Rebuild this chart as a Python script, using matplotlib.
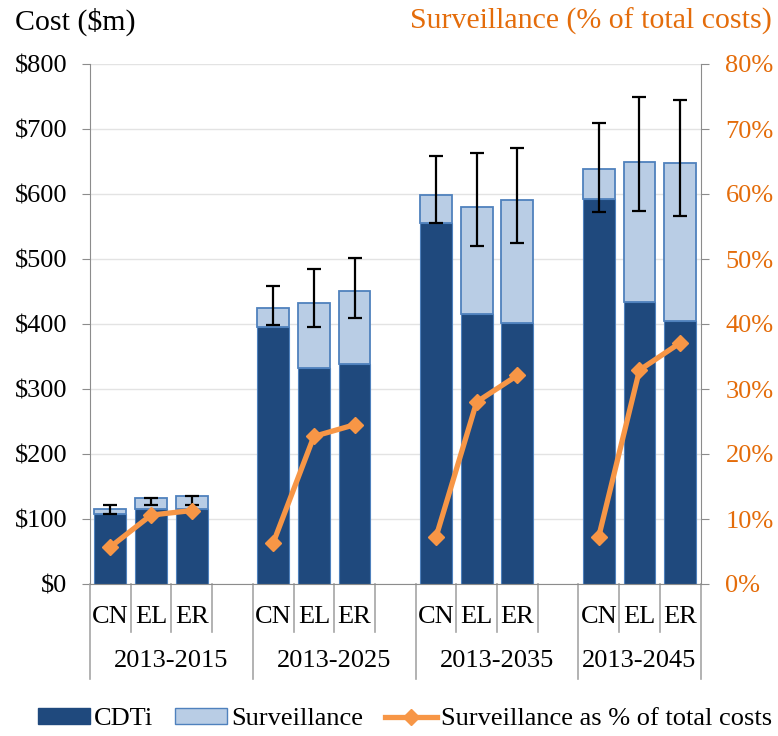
import matplotlib
matplotlib.use('Agg')
import matplotlib.pyplot as plt
import numpy as np
from matplotlib.patches import Patch
from matplotlib.lines import Line2D

plt.rcParams['font.family'] = ['Liberation Serif', 'DejaVu Serif']
plt.rcParams['font.size'] = 19

# chart data
periods = ['2013-2015', '2013-2025', '2013-2035', '2013-2045']
scenarios = ['CN', 'EL', 'ER']
cdti = [108, 116, 116, 396, 332, 339, 556, 416, 401, 593, 434, 405]
surveillance = [7, 17, 19, 28, 100, 112, 43, 164, 190, 46, 215, 243]
err_low = [107, 122, 121, 399, 395, 409, 555, 520, 524, 572, 574, 566]
err_high = [121, 133, 135, 459, 484, 501, 659, 663, 671, 710, 750, 745]
surv_pct = [5.7, 10.6, 11.3, 6.3, 22.7, 24.5, 7.2, 28.0, 32.1, 7.3, 32.9, 37.1]

dark_blue = '#1F497D'
light_blue = '#B9CDE5'
edge_blue = '#4F81BD'
orange = '#F79646'
orange_text = '#E46C0A'
grey = '#8C8C8C'

# one empty category slot between period groups
x = np.array([g * 4 + s for g in range(len(periods)) for s in range(len(scenarios))])
cdti = np.array(cdti)
surveillance = np.array(surveillance)
total = cdti + surveillance
yerr = [total - np.array(err_low), np.array(err_high) - total]

fig = plt.figure(figsize=(7.78, 7.36), dpi=100)
ax = fig.add_axes([90 / 778, 152 / 736, 610.5 / 778, 520 / 736])
ax2 = ax.twinx()

ax.bar(x, cdti, width=0.78, color=dark_blue, edgecolor=edge_blue, linewidth=0.8, zorder=2)
ax.bar(x, surveillance, bottom=cdti, width=0.78, color=light_blue,
       edgecolor=edge_blue, linewidth=1.3, zorder=2)
ax.errorbar(x, total, yerr=yerr, fmt='none', ecolor='black', elinewidth=1.6,
            capsize=5, capthick=1.6, zorder=3)

for g in range(len(periods)):
    sl = slice(g * 3, g * 3 + 3)
    ax2.plot(x[sl], surv_pct[sl], color=orange, lw=3.8, marker='D', ms=8.5)

ax.set_xlim(-0.5, 14.5)
ax.set_ylim(0, 800)
ax.set_yticks(range(0, 801, 100))
ax.set_yticklabels(['$%d' % v for v in range(0, 801, 100)])
ax.yaxis.grid(True, color='#E3E3E3', lw=1)
ax.set_axisbelow(True)
ax.set_xticks([])

ax2.set_ylim(0, 80)
ax2.set_yticks(range(0, 81, 10))
ax2.set_yticklabels(['%d%%' % v for v in range(0, 81, 10)])

for a in (ax, ax2):
    a.spines['top'].set_visible(False)
ax.spines['right'].set_visible(False)
ax2.spines['left'].set_visible(False)
ax2.spines['bottom'].set_visible(False)
ax.spines['left'].set_color(grey)
ax.spines['bottom'].set_color(grey)
ax2.spines['right'].set_color(grey)

ax.tick_params(axis='y', direction='out', length=6, color=grey, pad=10.5, labelsize=19)
ax2.tick_params(axis='y', direction='out', length=6, color=grey, pad=12,
                labelsize=19, labelcolor=orange_text)

# two-level category axis
trans = ax.get_xaxis_transform()
for b in np.arange(-0.5, 15, 1.0):
    depth = -0.183 if b in (-0.5, 3.5, 7.5, 11.5, 14.5) else -0.0917
    ax.plot([b, b], [0, depth], transform=trans, clip_on=False, color='#A6A6A6', lw=1.2)
for xi, i in zip(x, range(len(x))):
    ax.text(xi, -0.063, scenarios[i % 3], transform=trans, ha='center', va='center')
group_centers = [1.5, 5.5, 9.5, 13]
for c, p in zip(group_centers, periods):
    ax.text(c, -0.149, p, transform=trans, ha='center', va='center')

fig.text(15 / 778, 1 - 22 / 736, 'Cost ($m)', ha='left', va='center', fontsize=21.5)
fig.text(772 / 778, 1 - 21 / 736, 'Surveillance (% of total costs)', ha='right',
         va='center', color=orange_text, fontsize=21.5)

handles = [Patch(facecolor=dark_blue, edgecolor=dark_blue),
           Patch(facecolor=light_blue, edgecolor=edge_blue),
           Line2D([], [], color=orange, lw=3.8, marker='D', ms=8.5)]
fig.legend(handles, ['CDTi', 'Surveillance', 'Surveillance as % of total costs'],
           loc='center', bbox_to_anchor=(405 / 778, 17 / 736), ncol=3, frameon=False,
           handlelength=2, handletextpad=0.15, columnspacing=0.8, handleheight=0.55,
           fontsize=19, borderpad=0)

fig.savefig('out.png', dpi=100)
